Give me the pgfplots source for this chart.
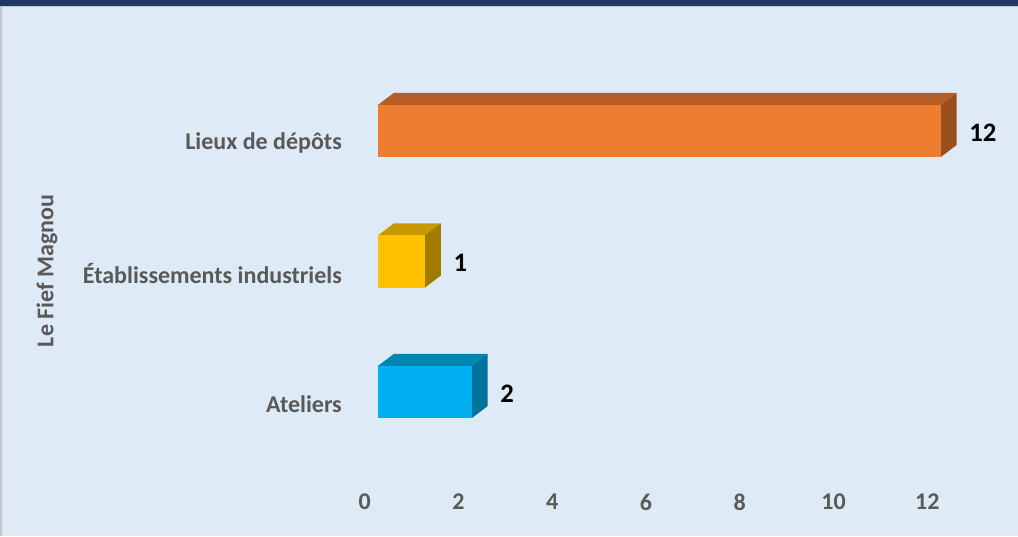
\documentclass[border=0pt]{standalone}
\usepackage{fontspec}
\setmainfont{Carlito}
\usepackage{pgfplots}
\pgfplotsset{compat=1.18}
\definecolor{bg}{HTML}{DEEAF6}
\definecolor{navy}{HTML}{203864}
\definecolor{lbl}{HTML}{595959}
\definecolor{orF}{HTML}{ED7D31}
\definecolor{orT}{HTML}{B65E25}
\definecolor{orS}{HTML}{9B4F1F}
\definecolor{yeF}{HTML}{FFC000}
\definecolor{yeT}{HTML}{C89800}
\definecolor{yeS}{HTML}{A17A00}
\definecolor{blF}{HTML}{00B0F0}
\definecolor{blT}{HTML}{0085B5}
\definecolor{blS}{HTML}{00739C}
\begin{document}
\begin{tikzpicture}
% background of the chart area
\fill[bg] (-265.9pt,-39.5pt) rectangle (497.6pt,362.5pt);
\fill[navy] (-265.9pt,358pt) rectangle (497.6pt,362.5pt);
\fill[gray!45] (-265.9pt,357pt) rectangle (497.6pt,358pt);
\fill[gray!45] (-265.9pt,-39.5pt) rectangle (-264.4pt,358pt);
\begin{axis}[
  scale only axis,
  width=492.4pt, height=342.6pt,
  xmin=-0.5, xmax=13.5, ymin=-0.7, ymax=2.8,
  axis line style={draw=none},
  major tick length=0pt,
  /pgf/number format/assume math mode=true,
  xtick={0,2,...,12},
  ytick={0,1,2},
  yticklabels={Ateliers,Établissements industriels,Lieux de dépôts},
  ticklabel style={font=\fontsize{18}{21.6}\selectfont\bfseries, text=lbl},
  xticklabel style={xshift=-10pt, yshift=-4.5pt},
  yticklabel style={yshift=-9pt, xshift=-6pt},
  clip=false,
]
% top faces
\addplot[fill=orT, draw=none] coordinates {(0,2.2) (12,2.2) (12.34,2.292) (0.34,2.292)} --cycle;
\addplot[fill=yeT, draw=none] coordinates {(0,1.2) (1,1.2) (1.34,1.292) (0.34,1.292)} --cycle;
\addplot[fill=blT, draw=none] coordinates {(0,0.2) (2,0.2) (2.34,0.292) (0.34,0.292)} --cycle;
% side faces
\addplot[fill=orS, draw=none] coordinates {(12,1.8) (12,2.2) (12.34,2.292) (12.34,1.892)} --cycle;
\addplot[fill=yeS, draw=none] coordinates {(1,0.8) (1,1.2) (1.34,1.292) (1.34,0.892)} --cycle;
\addplot[fill=blS, draw=none] coordinates {(2,-0.2) (2,0.2) (2.34,0.292) (2.34,-0.108)} --cycle;
% front faces with value labels
\addplot[xbar, bar shift=0pt, bar width=0.4, fill=orF, draw=none,
  nodes near coords, every node near coord/.append style={anchor=west, xshift=18pt, yshift=-1pt, text=black, font=\fontsize{20}{24}\selectfont\bfseries}]
  coordinates {(12,2)};
\addplot[xbar, bar shift=0pt, bar width=0.4, fill=yeF, draw=none,
  nodes near coords, every node near coord/.append style={anchor=west, xshift=18pt, yshift=-1pt, text=black, font=\fontsize{20}{24}\selectfont\bfseries}]
  coordinates {(1,1)};
\addplot[xbar, bar shift=0pt, bar width=0.4, fill=blF, draw=none,
  nodes near coords, every node near coord/.append style={anchor=west, xshift=18pt, yshift=-1pt, text=black, font=\fontsize{20}{24}\selectfont\bfseries}]
  coordinates {(2,0)};
\end{axis}
\node[rotate=90, text=lbl, font=\fontsize{18}{21.6}\selectfont\bfseries] at (-230.7pt,159.3pt) {Le Fief Magnou};
\end{tikzpicture}
\end{document}
